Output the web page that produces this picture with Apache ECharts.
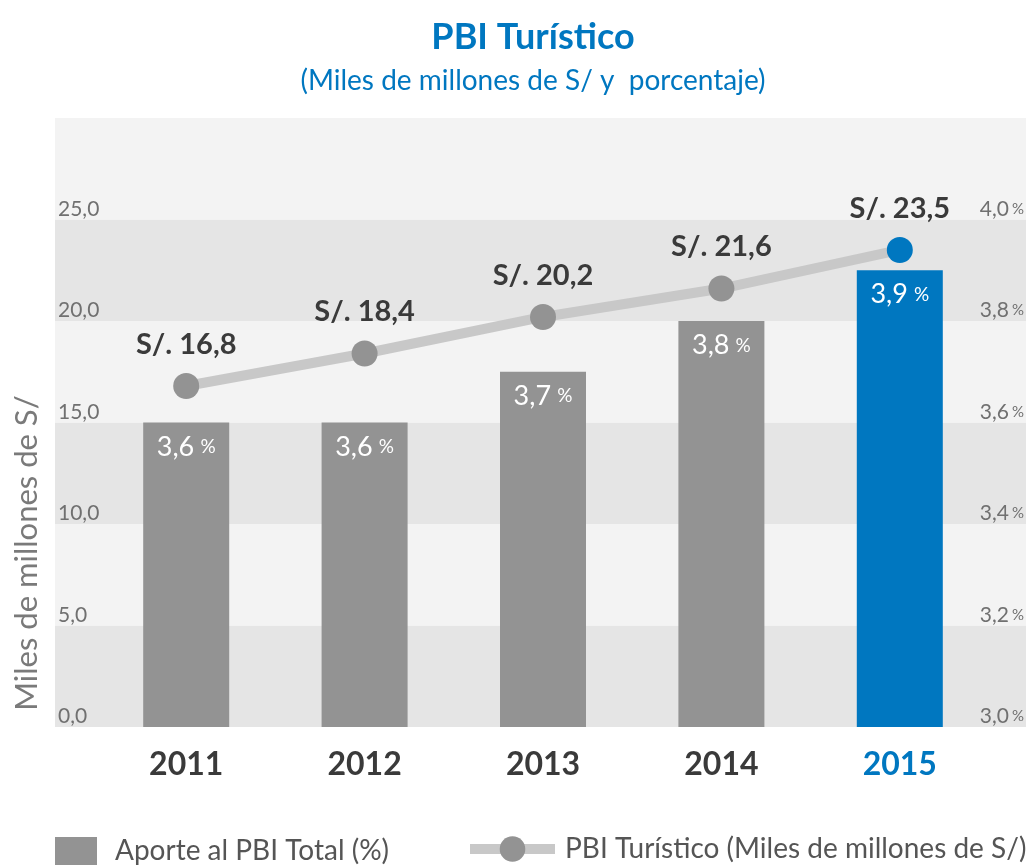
<!DOCTYPE html>
<html>
<head>
<meta charset="utf-8">
<script src="https://cdn.jsdelivr.net/npm/echarts@6/dist/echarts.min.js"></script>
<style>
  html, body { margin: 0; padding: 0; background: #fff; }
  #main { width: 1027px; height: 865px; }
</style>
</head>
<body>
<div id="main"></div>
<script>
var years = ["2011", "2012", "2013", "2014", "2015"];
var aporte = [3.6, 3.6, 3.7, 3.8, 3.9];          // % del PBI total
var pbiTuristico = [16.8, 18.4, 20.2, 21.6, 23.5]; // miles de millones de S/
var highlightYear = "2015";

var FONT = "Lato, sans-serif";
var BLUE = "#0077c0";
var GREY_BAR = "#939393";

function coma(v) {
  return v.toFixed(1).replace(".", ",");
}

var myChart = echarts.init(document.getElementById("main"));
var option;

option = {
  animation: false,
  textStyle: { fontFamily: FONT },
  graphic: [
    {
      type: "text", x: 533, y: 37,
      style: {
        text: "PBI Turístico", textAlign: "center", textVerticalAlign: "middle",
        font: "bold 36px " + FONT, fill: BLUE
      }
    },
    {
      type: "text", x: 533, y: 81,
      style: {
        text: "(Miles de millones de S/ y  porcentaje)", textAlign: "center", textVerticalAlign: "middle",
        font: "28px " + FONT, fill: BLUE
      }
    },
    {
      type: "text", x: 27, y: 553, rotation: Math.PI / 2,
      style: {
        text: "Miles de millones de S/", textAlign: "center", textVerticalAlign: "middle",
        font: "31px " + FONT, fill: "#7a7a7a"
      }
    }
  ],
  legend: [
    {
      left: 50, top: 832, itemWidth: 42, itemHeight: 28, icon: "rect",
      data: ["Aporte al PBI Total (%)"],
      textStyle: { fontSize: 28, color: "#555", padding: [0, 0, 0, 13] }
    },
    {
      left: 460, top: 830, itemWidth: 85, itemHeight: 32,
      data: ["PBI Turístico (Miles de millones de S/)"],
      lineStyle: { width: 10, color: "#c8c8c8" },
      textStyle: { fontSize: 28, color: "#555", padding: [0, 0, 0, 5] }
    }
  ],
  grid: [
    { left: 55, right: 0, top: 118, bottom: 138 },
    { left: 97, right: 38, top: 118, bottom: 138 }
  ],
  xAxis: [
    { type: "value", gridIndex: 0, min: 0, max: 1, show: false },
    {
      type: "category", gridIndex: 1,
      data: years.map(function (y) {
        return y === highlightYear ? { value: y, textStyle: { color: BLUE } } : y;
      }),
      axisLine: { show: false }, axisTick: { show: false },
      axisLabel: { margin: 22, fontSize: 32, fontWeight: "bold", color: "#3a3a3a" }
    }
  ],
  yAxis: [
    {
      type: "value", gridIndex: 0, position: "left", min: 0, max: 30, interval: 5,
      axisLine: { show: false }, axisTick: { show: false }, splitLine: { show: false },
      splitArea: { show: true, areaStyle: { color: ["#e5e5e5", "#f3f3f3"] } },
      axisLabel: {
        inside: true, margin: 3, showMaxLabel: false, fontSize: 21, color: "#707070",
        verticalAlign: "bottom", lineHeight: 21,
        formatter: function (v) { return coma(v); }
      }
    },
    {
      type: "value", gridIndex: 0, position: "right", min: 3.0, max: 4.2, interval: 0.2,
      axisLine: { show: false }, axisTick: { show: false }, splitLine: { show: false },
      axisLabel: {
        inside: true, margin: 2, showMaxLabel: false, color: "#707070",
        verticalAlign: "bottom", lineHeight: 21,
        formatter: function (v) { return "{n|" + coma(v) + "} {p|%}"; },
        rich: {
          n: { fontSize: 21, color: "#707070", fontFamily: FONT },
          p: { fontSize: 15, color: "#707070", fontFamily: FONT }
        }
      }
    },
    { type: "value", gridIndex: 1, min: 0, max: 30, interval: 5, show: false },
    { type: "value", gridIndex: 1, min: 3.0, max: 4.2, interval: 0.2, show: false }
  ],
  series: [
    {
      name: "Aporte al PBI Total (%)",
      type: "bar",
      xAxisIndex: 1, yAxisIndex: 3,
      barWidth: 86,
      itemStyle: { color: GREY_BAR },
      data: aporte.map(function (v, i) {
        return years[i] === highlightYear ? { value: v, itemStyle: { color: BLUE } } : v;
      }),
      label: {
        show: true, position: "insideTop", distance: 11,
        formatter: function (p) { return "{n|" + coma(p.value) + "}  {p|%}"; },
        rich: {
          n: { fontSize: 27, color: "#fff", fontFamily: FONT },
          p: { fontSize: 19, color: "#fff", fontFamily: FONT }
        }
      }
    },
    {
      name: "PBI Turístico (Miles de millones de S/)",
      type: "line",
      xAxisIndex: 1, yAxisIndex: 2,
      symbol: "circle", symbolSize: 26,
      lineStyle: { color: "#c8c8c8", width: 10 },
      itemStyle: { color: GREY_BAR },
      data: pbiTuristico.map(function (v, i) {
        return years[i] === highlightYear ? { value: v, itemStyle: { color: BLUE } } : v;
      }),
      label: {
        show: true, position: "top", distance: 14,
        fontSize: 29, fontWeight: "bold", color: "#3a3a3a",
        formatter: function (p) { return "S/. " + coma(p.value); }
      },
      z: 3
    }
  ]
};

option && myChart.setOption(option);
</script>
</body>
</html>
